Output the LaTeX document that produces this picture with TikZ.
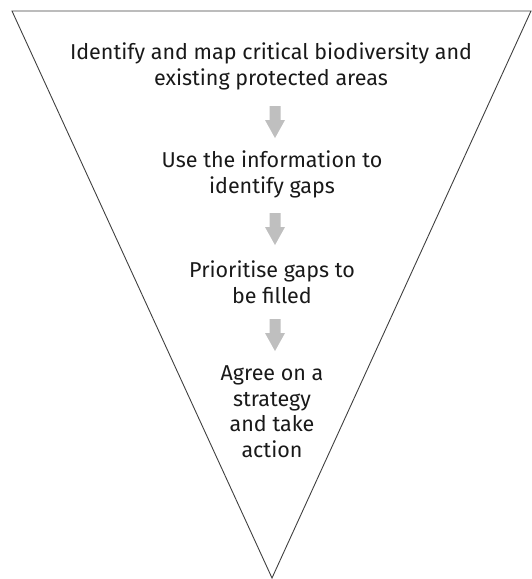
\documentclass[tikz,border=0pt]{standalone}
\usepackage{fontspec}
\setmainfont{Fira Sans}
\begin{document}
\begin{tikzpicture}[x=1pt,y=-1pt,
  txt/.style={align=center,inner sep=0pt,anchor=base,font=\fontsize{21.5}{25.5}\selectfont,text=black!90},
  funnel/.style={draw=black!75,line width=0.9pt,line join=miter},
  blockarrow/.pic={\fill[black!25] (-5.5,0) -- (5.5,0) -- (5.5,14) -- (10,14) -- (0,32) -- (-10,14) -- (-5.5,14) -- cycle;}]
\useasboundingbox (0,0) rectangle (531,579);
\coordinate (tl) at (12,11);
\coordinate (tr) at (531,11);
\coordinate (apex) at (272,578);
\draw[funnel] (tl) -- (tr) -- (apex) -- cycle;
\node[txt] (s1) at (271,85) {Identify and map critical biodiversity and\\existing protected areas};
\node[txt] (s2) at (272,193) {Use the information to\\identify gaps};
\node[txt] (s3) at (272,303) {Prioritise gaps to\\be filled};
\node[txt] (s4) at (272,457) {Agree on a\\strategy\\and take\\action};
\pic at (275,106) {blockarrow};
\pic at (275,213) {blockarrow};
\pic at (275,319) {blockarrow};
\end{tikzpicture}
\end{document}
